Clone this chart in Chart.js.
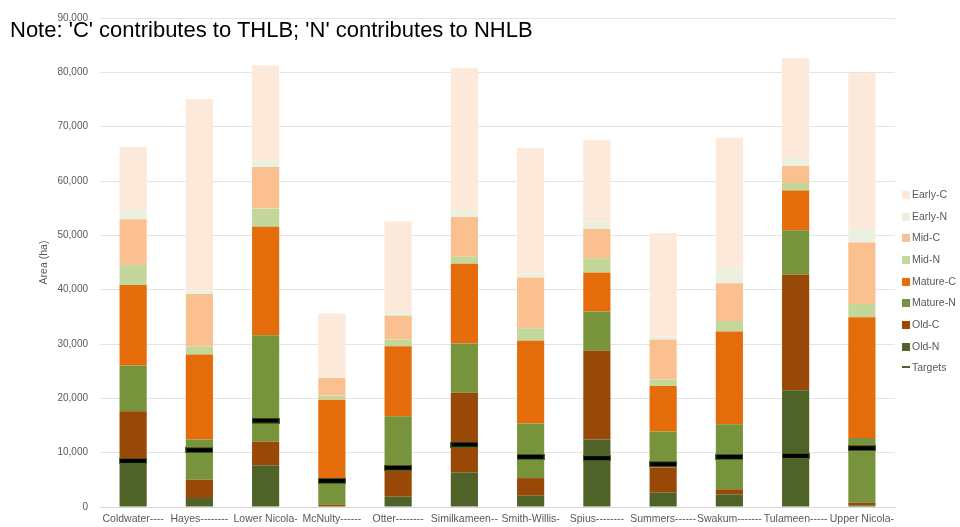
<!DOCTYPE html>
<html>
<head>
<meta charset="utf-8">
<script src="https://cdn.jsdelivr.net/npm/chart.js@4/dist/chart.umd.min.js"></script>
<style>
  html, body { margin: 0; padding: 0; background: #ffffff; }
  #wrap { position: relative; width: 960px; height: 527px; overflow: hidden; }
  #c { position: absolute; left: 0; top: 0; }
  #note { position: absolute; left: 10px; top: 17.5px; font-family: 'Liberation Sans', Arial, sans-serif; font-size: 22px; color: #000; white-space: nowrap; line-height: 24px; }
  #legend { position: absolute; left: 902px; top: 188px; font-family: 'Liberation Sans', Arial, sans-serif; font-size: 10.5px; color: #595959; }
  .li { position: relative; height: 21.67px; line-height: 13px; white-space: nowrap; }
  .sw { display: inline-block; width: 8px; height: 8px; vertical-align: -1px; margin-right: 2px; }
  .ln { display: inline-block; width: 8px; height: 2px; vertical-align: 3px; margin-right: 2px; }
</style>
</head>
<body>
<div id="wrap">
  <canvas id="c" width="960" height="527"></canvas>
  <div id="note">Note: 'C' contributes to THLB; 'N' contributes to NHLB</div>
  <div id="legend"></div>
</div>
<script>
const categories = ['Coldwater----', 'Hayes--------', 'Lower Nicola-', 'McNulty------', 'Otter--------', 'Similkameen--',
                    'Smith-Willis-', 'Spius--------', 'Summers------', 'Swakum-------', 'Tulameen-----', 'Upper Nicola-'];
const yTicks = [0, 10000, 20000, 30000, 40000, 50000, 60000, 70000, 80000, 90000];

const oldN     = [8100, 1650, 7700, 100, 1890, 6360, 2080, 12420, 2630, 2320, 21470, 300];
const oldC     = [9500, 3360, 4350, 300, 4780, 14680, 3240, 16390, 4650, 920, 21340, 490];
const matureN  = [8450, 7410, 19570, 3950, 10030, 9050, 10030, 7150, 6600, 11990, 8140, 11930];
const matureC  = [14810, 15650, 19940, 15410, 12900, 14680, 15230, 7220, 8380, 17060, 7280, 22200];
const midN     = [3670, 1470, 3360, 740, 1230, 1290, 2320, 2630, 1230, 1960, 1400, 2450];
const midC     = [8440, 9660, 7650, 3230, 4400, 7330, 9360, 5380, 7340, 6910, 3120, 11310];
const earlyN   = [1650, 620, 1220, 70, 790, 1230, 730, 1350, 550, 2750, 1410, 2450];
const earlyC   = [11620, 35230, 17490, 11800, 16520, 26110, 23120, 14980, 19020, 24040, 18470, 28740];
const targets  = [8500, 10460, 15900, 4830, 7220, 11500, 9230, 8990, 7890, 9230, 9420, 10830];

const seriesNames = ['Old-N', 'Old-C', 'Mature-N', 'Mature-C', 'Mid-N', 'Mid-C', 'Early-N', 'Early-C'];
const seriesData = [oldN, oldC, matureN, matureC, midN, midC, earlyN, earlyC];
const seriesColors = ['#4F6228', '#984807', '#77933C', '#E46C0A', '#C4D79B', '#FAC090', '#EBF1DE', '#FDE9D9'];
const targetColor = '#4F6228';

// target marker image
const mk = document.createElement('canvas');
mk.width = 28; mk.height = 6;
const mctx = mk.getContext('2d');
mctx.fillStyle = '#4F6228'; mctx.fillRect(0, 0, 28, 6);
mctx.fillStyle = '#000000'; mctx.fillRect(1, 1, 26, 4);

Chart.defaults.font.family = "'Liberation Sans', Arial, sans-serif";
Chart.defaults.color = '#595959';

const datasets = seriesNames.map((n, i) => ({
  type: 'bar', label: n, data: seriesData[i], backgroundColor: seriesColors[i],
  borderWidth: 0, stack: 'a', order: 1,
  categoryPercentage: 1, barPercentage: 0.41
}));
datasets.push({
  type: 'line', label: 'Targets', data: targets, showLine: false, stack: 't', order: 0,
  pointStyle: mk, pointRadius: 14, pointHoverRadius: 14, borderColor: targetColor, backgroundColor: targetColor
});

new Chart(document.getElementById('c'), {
  data: { labels: categories, datasets: datasets },
  options: {
    responsive: false, animation: false, devicePixelRatio: 1,
    layout: { padding: { left: 34, right: 65, top: 17, bottom: 0 } },
    plugins: { legend: { display: false }, tooltip: { enabled: false } },
    scales: {
      x: {
        stacked: true,
        grid: { display: false, drawTicks: false },
        border: { display: true, color: '#D9D9D9', width: 1 },
        ticks: { autoSkip: false, maxRotation: 0, padding: 6, font: { size: 10.5 }, color: '#595959' },
        afterFit: s => { s.height = 20; }
      },
      y: {
        stacked: true, min: 0, max: 90000,
        afterBuildTicks: s => { s.ticks = yTicks.map(v => ({ value: v })); },
        grid: { color: '#E4E4E4', drawTicks: false },
        border: { display: false },
        ticks: { padding: 12, font: { size: 10 }, color: '#595959',
                 callback: v => v.toLocaleString('en-US') },
        title: { display: true, text: 'Area (ha)', font: { size: 10.5 }, color: '#595959', padding: { top: 4, bottom: 0 } },
        afterFit: s => { s.width = 66; }
      }
    }
  }
});

// legend
const lg = document.getElementById('legend');
for (let i = seriesNames.length - 1; i >= 0; i--) {
  const d = document.createElement('div'); d.className = 'li';
  d.innerHTML = '<span class="sw" style="background:' + seriesColors[i] + '"></span>' + seriesNames[i];
  lg.appendChild(d);
}
const t = document.createElement('div'); t.className = 'li';
t.innerHTML = '<span class="ln" style="background:' + targetColor + '"></span>Targets';
lg.appendChild(t);
</script>
</body>
</html>
